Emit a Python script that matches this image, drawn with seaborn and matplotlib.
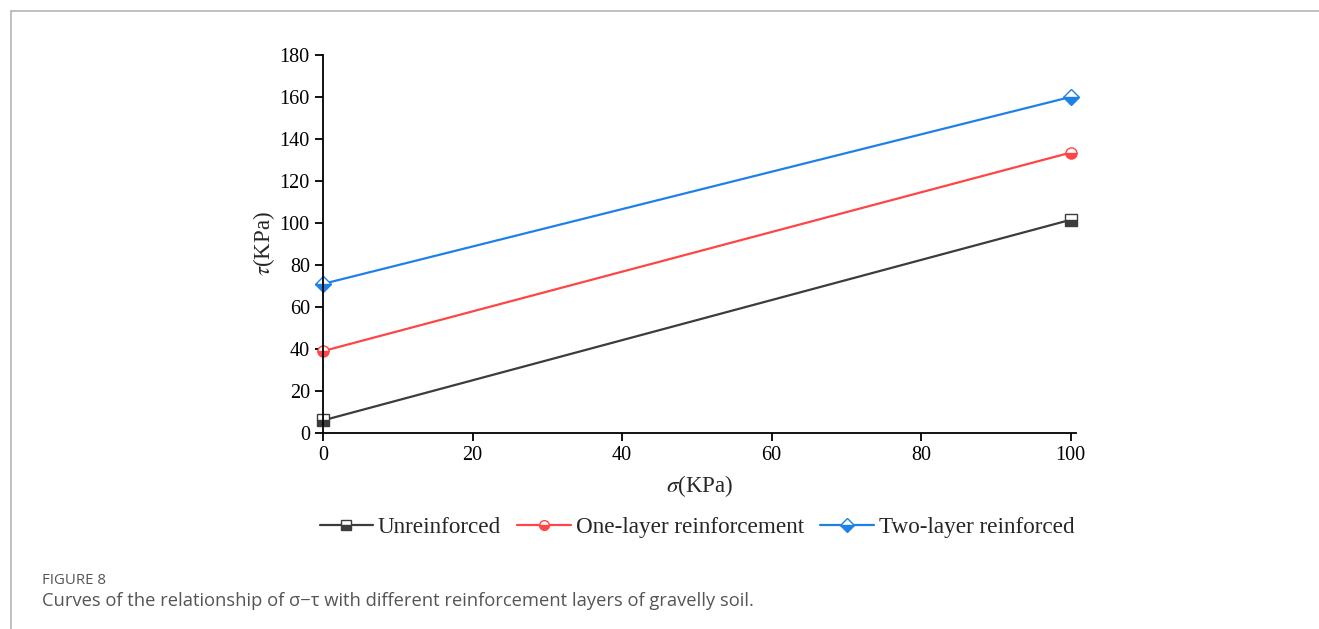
import pandas as pd
import matplotlib.pyplot as plt
import matplotlib.lines as mlines
import seaborn as sns

# values
sigma = [0, 100]
unreinforced = [6, 101.5]
one_layer = [39, 133.5]
two_layer = [71, 160]
series_names = ["Unreinforced", "One-layer reinforcement", "Two-layer reinforced"]
colors = ["#3c3c3c", "#ff4545", "#1f80e6"]
markers = ["s", "o", "D"]

df = pd.DataFrame({
    "sigma": sigma * 3,
    "tau": unreinforced + one_layer + two_layer,
    "Series": [series_names[0]] * 2 + [series_names[1]] * 2 + [series_names[2]] * 2,
})

sns.set_style("white")
plt.rcParams["font.family"] = ["Liberation Serif", "DejaVu Serif"]
plt.rcParams["mathtext.fontset"] = "stix"

fig = plt.figure(figsize=(13.19, 6.29), dpi=100)
ax = fig.add_axes([0.2449, 0.3116, 0.5707, 0.601])

sns.lineplot(data=df, x="sigma", y="tau", hue="Series", style="Series",
             palette=colors, markers=markers, dashes=False, ax=ax,
             linewidth=1.6, markersize=8, legend=False)

for line, c in zip(ax.lines, colors):
    line.set_fillstyle("bottom")
    line.set_markerfacecolor(c)
    line.set_markerfacecoloralt("white")
    line.set_markeredgecolor(c)
    line.set_markeredgewidth(1.0)
    line.set_clip_on(False)

ax.set_xlim(0, 100.7)
ax.set_ylim(0, 180)
ax.set_xticks([0, 20, 40, 60, 80, 100])
ax.set_yticks(range(0, 181, 20))
for s in ["top", "right"]:
    ax.spines[s].set_visible(False)
for s in ["left", "bottom"]:
    ax.spines[s].set_color("black")
    ax.spines[s].set_linewidth(1.3)
ax.tick_params(axis="both", direction="out", length=6, width=1.3,
               labelsize=14.5, colors="black", left=True, bottom=True)
ax.set_xlabel(r"$\sigma$(KPa)", fontsize=16.5, labelpad=6)
ax.set_ylabel(r"$\tau$(KPa)", fontsize=16.5, labelpad=2)

handles = []
for name, c, m in zip(series_names, colors, markers):
    h = mlines.Line2D([], [], color=c, marker=m, markersize=7, linewidth=1.6,
                      fillstyle="bottom", markerfacecolor=c,
                      markerfacecoloralt="white", markeredgecolor=c)
    handles.append(h)
fig.legend(handles=handles, labels=series_names, loc="center",
           bbox_to_anchor=(697 / 1319, 1 - 527 / 629), ncol=3, frameon=False,
           fontsize=16.7, handlelength=2.3, columnspacing=0.7, handletextpad=0.22)

# page frame and caption
fig.add_artist(mlines.Line2D([11 / 1319, 1], [1 - 11 / 629, 1 - 11 / 629],
                             color="#b5b5b5", linewidth=1.2))
fig.add_artist(mlines.Line2D([11 / 1319, 11 / 1319], [0, 1 - 11 / 629],
                             color="#b5b5b5", linewidth=1.2))
fig.text(42 / 1319, 1 - 581 / 629, "FIGURE 8", fontsize=10.8, color="#555555",
         family=["Open Sans", "DejaVu Sans"], va="center")
fig.text(42 / 1319, 1 - 601 / 629,
         "Curves of the relationship of σ−τ with different reinforcement layers of gravelly soil.",
         fontsize=13.2, color="#555555", family=["Open Sans", "DejaVu Sans"], va="center")

fig.savefig("out.png", dpi=100)
